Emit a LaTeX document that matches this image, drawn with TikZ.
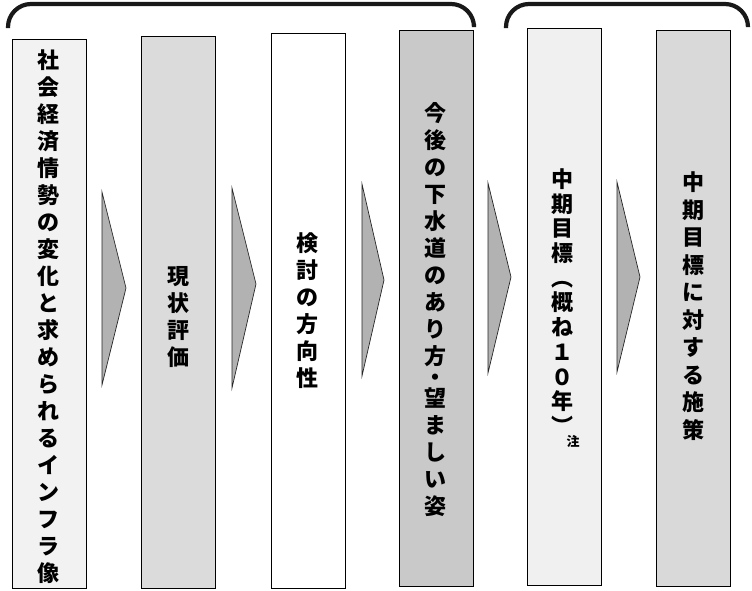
\documentclass[tikz,border=0pt]{standalone}
\usepackage{fontspec}
\newfontfamily\jp{Noto Sans CJK JP}
\begin{document}
\begin{tikzpicture}[x=1pt,y=-1pt]
\tikzset{
  box/.style={draw=black, line width=1.4pt, anchor=north west, minimum width=74pt, minimum height=#1, inner sep=0pt},
  vtext/.style={align=center, inner sep=0pt, font=\jp\bfseries\fontsize{22}{27}\selectfont},
  arrowshape/.style={fill=gray!60, draw=black!85, line width=0.7pt, line join=miter},
  bracket/.style={draw=black!90, line width=4.2pt, rounded corners=23pt}
}
\useasboundingbox (0,0) rectangle (752,590);
% brackets
\draw[bracket] (8,28) -- (8,4) -- (474,4) -- (474,24);
\draw[bracket] (506,28) -- (506,4) -- (748,4) -- (748,26);
% boxes
\node[box=549pt, fill=gray!10] (b1) at (12,39) {};
\node[box=552pt, fill=gray!28] (b2) at (141,36) {};
\node[box=555pt, fill=white]   (b3) at (271,33) {};
\node[box=556pt, fill=gray!42] (b4) at (399,30) {};
\node[box=557pt, fill=gray!12] (b5) at (527,28) {};
\node[box=556pt, fill=gray!30] (b6) at (656,30) {};
% arrows
\draw[arrowshape] (102,192) -- (126,288) -- (102,385) -- cycle;
\draw[arrowshape] (232,188) -- (256,284) -- (232,388) -- cycle;
\draw[arrowshape] (362,184) -- (384,280) -- (362,376) -- cycle;
\draw[arrowshape] (488,183) -- (511,277) -- (488,373) -- cycle;
\draw[arrowshape] (617,182) -- (640,277) -- (617,372) -- cycle;
% texts
\node[vtext] (t1) at (48,316.5) {社\\会\\経\\済\\情\\勢\\の\\変\\化\\と\\求\\め\\ら\\れ\\る\\イ\\ン\\フ\\ラ\\像};
\node[vtext] (t2) at (178,317) {現\\状\\評\\価};
\node[vtext] (t3) at (307,310.5) {検\\討\\の\\方\\向\\性};
\node[vtext] (t4) at (435,309.5) {今\\後\\の\\下\\水\\道\\の\\あ\\り\\方\\[-6pt]・\\[-6pt]望\\ま\\し\\い\\姿};
\node[vtext, font=\jp\bfseries\fontsize{22}{24.7}\selectfont] (t5) at (562,301.5) {中\\期\\目\\標\\︵\\概\\ね\\１\\０\\年\\︶};
\node[font=\jp\bfseries\fontsize{13}{13}\selectfont, inner sep=0pt] (n5) at (573,441) {注};
\node[vtext, font=\jp\bfseries\fontsize{22}{27.5}\selectfont] (t6) at (693,306) {中\\期\\目\\標\\に\\対\\す\\る\\施\\策};
\end{tikzpicture}
\end{document}
